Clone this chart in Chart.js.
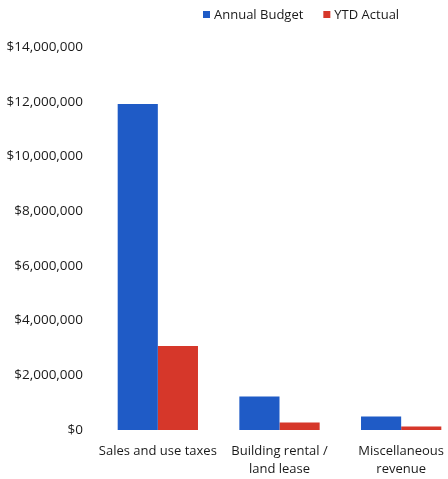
<!DOCTYPE html>
<html>
<head>
<meta charset="utf-8">
<script src="https://cdn.jsdelivr.net/npm/chart.js@4/dist/chart.umd.min.js"></script>
<style>
  html, body { margin: 0; padding: 0; background: #fff; overflow: hidden; }
  #wrap { width: 448px; height: 479px; overflow: hidden; }
</style>
</head>
<body>
<!-- canvas is a bit wider than the window: the original chart is cut off on the right -->
<div id="wrap"><canvas id="myChart" width="462" height="479"></canvas></div>
<script>
// data
var categories = ["Sales and use taxes", ["Building rental /", "land lease"], ["Miscellaneous", "revenue"]];
var seriesNames = ["Annual Budget", "YTD Actual"];
var annualBudget = [11920000, 1220000, 490000];
var ytdActual = [3070000, 270000, 130000];
var seriesColors = ["#1f5bc6", "#d6372a"];

var FONT = "'Open Sans', sans-serif";

// legend drawn by hand so it can sit off-centre like the original
var sideLegend = {
  id: 'sideLegend',
  afterDraw: function (chart) {
    var ctx = chart.ctx;
    var x = 203, y = 15;
    ctx.save();
    ctx.font = "13px " + FONT;
    ctx.textBaseline = "middle";
    chart.data.datasets.forEach(function (ds) {
      ctx.fillStyle = ds.backgroundColor;
      ctx.fillRect(x, y - 4, 7, 7);
      ctx.fillStyle = "#1a1a1a";
      ctx.fillText(ds.label, x + 11, y);
      x += 11 + ctx.measureText(ds.label).width + 20;
    });
    ctx.restore();
  }
};

var ctx = document.getElementById("myChart").getContext("2d");
var myBarChart = new Chart(ctx, {
  type: 'bar',
  data: {
    labels: categories,
    datasets: [
      { label: seriesNames[0], data: annualBudget, backgroundColor: seriesColors[0] },
      { label: seriesNames[1], data: ytdActual, backgroundColor: seriesColors[1] }
    ]
  },
  options: {
    responsive: false,
    animation: false,
    layout: { padding: { top: 47, right: 0, left: 0, bottom: 1 } },
    datasets: { bar: { categoryPercentage: 0.66, barPercentage: 1.0 } },
    plugins: { legend: { display: false }, tooltip: { enabled: false } },
    scales: {
      x: {
        grid: { display: false, drawTicks: false },
        border: { display: false },
        afterFit: function (scale) { scale.height = 48; },
        ticks: { color: "#1a1a1a", font: { family: FONT, size: 13, lineHeight: 1.4 }, padding: 12, maxRotation: 0, autoSkip: false }
      },
      y: {
        min: 0,
        max: 14000000,
        grid: { display: false, drawTicks: false },
        border: { display: false },
        afterFit: function (scale) { scale.width = 97; },
        ticks: {
          stepSize: 2000000,
          padding: 14,
          color: "#1a1a1a",
          font: { family: FONT, size: 13.5 },
          callback: function (v) { return "$" + v.toLocaleString("en-US"); }
        }
      }
    }
  },
  plugins: [sideLegend]
});
</script>
</body>
</html>
